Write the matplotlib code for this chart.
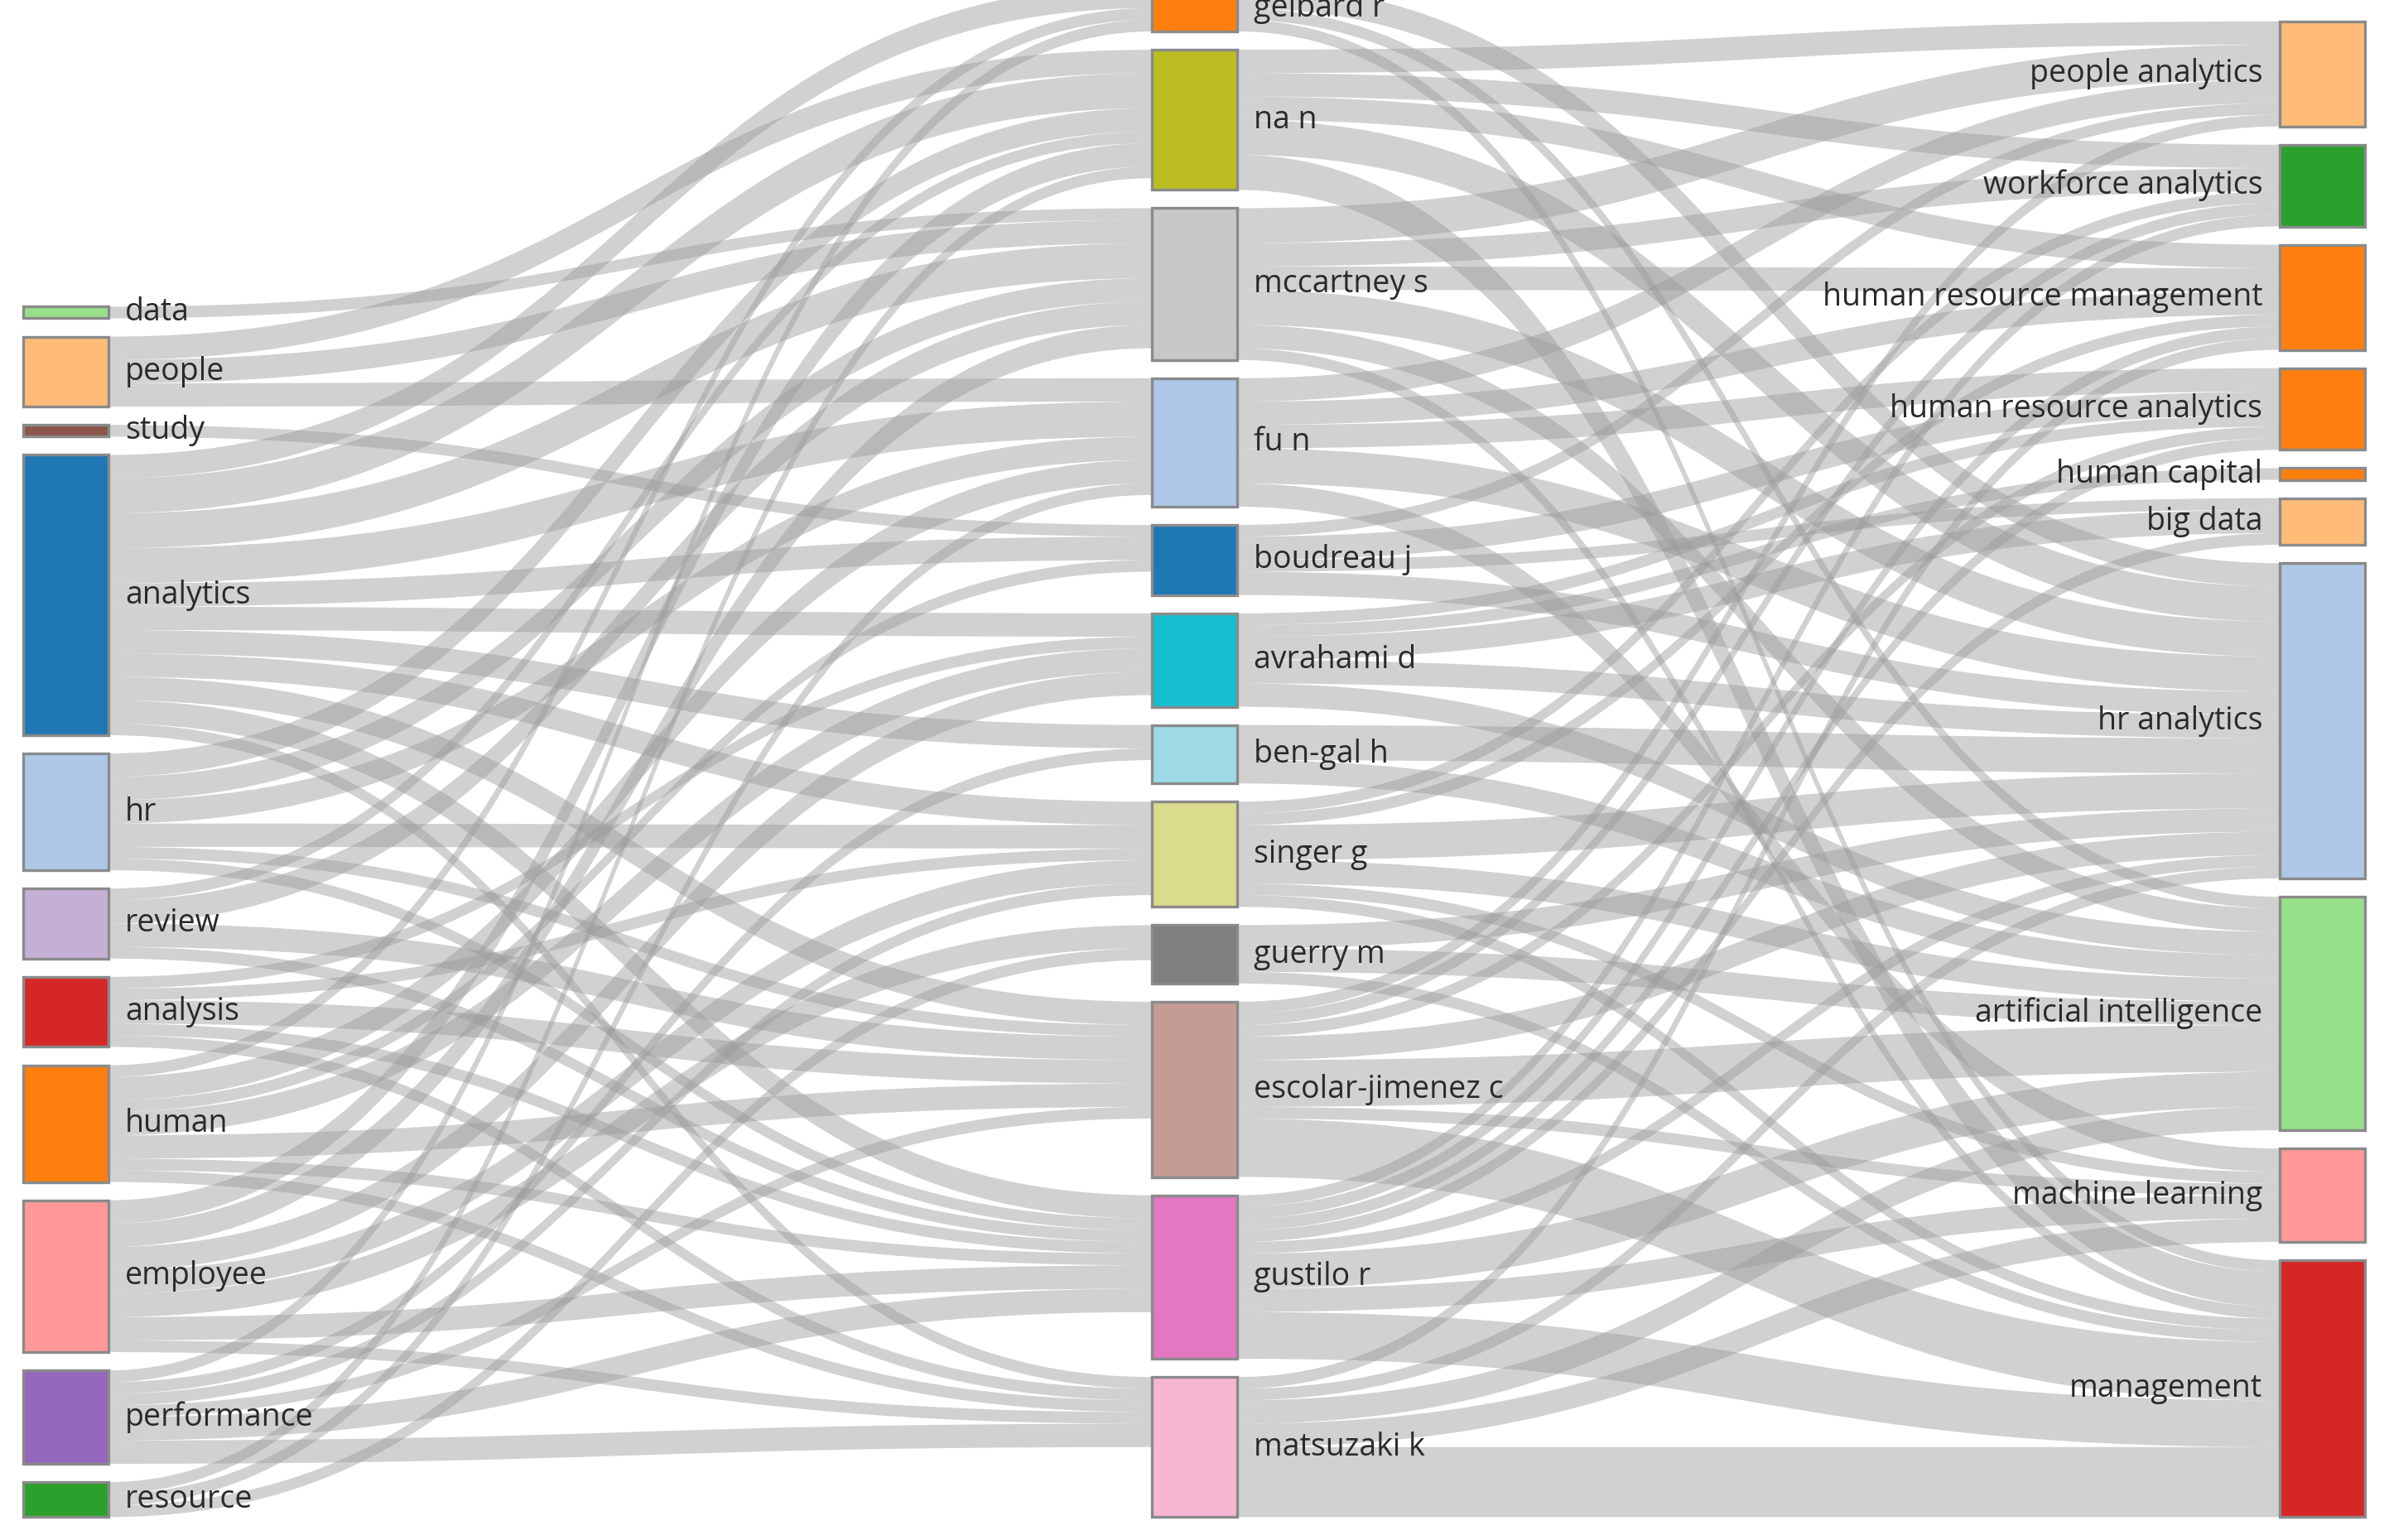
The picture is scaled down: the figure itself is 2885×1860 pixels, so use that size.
import numpy as np
import matplotlib.pyplot as plt
from matplotlib.path import Path
from matplotlib.patches import PathPatch, Rectangle

plt.rcParams['font.family'] = ['Open Sans', 'DejaVu Sans']

# three-field plot: keywords -> authors -> keywords
left_nodes = ["data", "people", "study", "analytics", "hr", "review", "analysis",
              "human", "employee", "performance", "resource"]
left_colors = ["#98df8a", "#ffbb78", "#8c564b", "#1f77b4", "#aec7e8", "#c5b0d5",
               "#d62728", "#ff7f0e", "#ff9896", "#9467bd", "#2ca02c"]
mid_nodes = ["gelbard r", "na n", "mccartney s", "fu n", "boudreau j", "avrahami d",
             "ben-gal h", "singer g", "guerry m", "escolar-jimenez c", "gustilo r", "matsuzaki k"]
mid_colors = ["#ff7f0e", "#bcbd22", "#c7c7c7", "#aec7e8", "#1f77b4", "#17becf",
              "#9edae5", "#dbdb8d", "#7f7f7f", "#c49c94", "#e377c2", "#f7b6d2"]
right_nodes = ["people analytics", "workforce analytics", "human resource management",
               "human resource analytics", "human capital", "big data", "hr analytics",
               "artificial intelligence", "machine learning", "management"]
right_colors = ["#ffbb78", "#2ca02c", "#ff7f0e", "#ff7f0e", "#ff7f0e", "#ffbb78",
                "#aec7e8", "#98df8a", "#ff9896", "#d62728"]

# (source, target, value)
flows_lm = [
    ("data", "mccartney s", 1),
    ("people", "na n", 2), ("people", "mccartney s", 2), ("people", "fu n", 2),
    ("study", "boudreau j", 1),
    ("analytics", "gelbard r", 2), ("analytics", "na n", 3), ("analytics", "mccartney s", 3),
    ("analytics", "fu n", 3), ("analytics", "boudreau j", 2), ("analytics", "avrahami d", 2),
    ("analytics", "ben-gal h", 2), ("analytics", "singer g", 2), ("analytics", "escolar-jimenez c", 2),
    ("analytics", "gustilo r", 2), ("analytics", "matsuzaki k", 1),
    ("hr", "na n", 2), ("hr", "mccartney s", 2), ("hr", "fu n", 2), ("hr", "singer g", 2),
    ("hr", "escolar-jimenez c", 1), ("hr", "gustilo r", 1),
    ("review", "na n", 1), ("review", "mccartney s", 2), ("review", "escolar-jimenez c", 2),
    ("review", "gustilo r", 1),
    ("analysis", "avrahami d", 1), ("analysis", "singer g", 1), ("analysis", "escolar-jimenez c", 2),
    ("analysis", "gustilo r", 1), ("analysis", "matsuzaki k", 1),
    ("human", "gelbard r", 1), ("human", "fu n", 2), ("human", "boudreau j", 1),
    ("human", "avrahami d", 2), ("human", "escolar-jimenez c", 2), ("human", "gustilo r", 1),
    ("human", "matsuzaki k", 1),
    ("employee", "na n", 2), ("employee", "mccartney s", 2), ("employee", "avrahami d", 2),
    ("employee", "singer g", 2), ("employee", "guerry m", 2), ("employee", "gustilo r", 2),
    ("employee", "matsuzaki k", 1),
    ("performance", "gelbard r", 1), ("performance", "ben-gal h", 1), ("performance", "singer g", 1),
    ("performance", "escolar-jimenez c", 1), ("performance", "gustilo r", 2),
    ("performance", "matsuzaki k", 2),
    ("resource", "na n", 1), ("resource", "fu n", 1), ("resource", "guerry m", 1),
]
flows_mr = [
    ("gelbard r", "hr analytics", 2), ("gelbard r", "artificial intelligence", 1), ("gelbard r", "management", 1),
    ("na n", "people analytics", 2), ("na n", "workforce analytics", 2), ("na n", "human resource management", 2),
    ("na n", "hr analytics", 3), ("na n", "management", 3),
    ("mccartney s", "people analytics", 3), ("mccartney s", "workforce analytics", 2),
    ("mccartney s", "human resource management", 2), ("mccartney s", "hr analytics", 3),
    ("mccartney s", "artificial intelligence", 2), ("mccartney s", "management", 1),
    ("fu n", "people analytics", 2), ("fu n", "human resource management", 2),
    ("fu n", "human resource analytics", 2), ("fu n", "hr analytics", 3), ("fu n", "machine learning", 2),
    ("boudreau j", "people analytics", 1), ("boudreau j", "human resource analytics", 2),
    ("boudreau j", "hr analytics", 2), ("boudreau j", "big data", 1),
    ("avrahami d", "human resource analytics", 1), ("avrahami d", "human capital", 1),
    ("avrahami d", "big data", 2), ("avrahami d", "hr analytics", 2), ("avrahami d", "artificial intelligence", 2),
    ("ben-gal h", "hr analytics", 3), ("ben-gal h", "artificial intelligence", 2),
    ("singer g", "workforce analytics", 1), ("singer g", "human resource management", 1),
    ("singer g", "hr analytics", 3), ("singer g", "artificial intelligence", 2),
    ("singer g", "machine learning", 1), ("singer g", "management", 1),
    ("guerry m", "hr analytics", 2), ("guerry m", "artificial intelligence", 2), ("guerry m", "management", 1),
    ("escolar-jimenez c", "people analytics", 1), ("escolar-jimenez c", "workforce analytics", 1),
    ("escolar-jimenez c", "human resource analytics", 1), ("escolar-jimenez c", "hr analytics", 2),
    ("escolar-jimenez c", "artificial intelligence", 4), ("escolar-jimenez c", "machine learning", 1),
    ("escolar-jimenez c", "management", 5),
    ("gustilo r", "workforce analytics", 1), ("gustilo r", "human resource management", 1),
    ("gustilo r", "human resource analytics", 1), ("gustilo r", "big data", 1),
    ("gustilo r", "hr analytics", 1), ("gustilo r", "artificial intelligence", 3),
    ("gustilo r", "machine learning", 2), ("gustilo r", "management", 4),
    ("matsuzaki k", "human resource management", 1), ("matsuzaki k", "hr analytics", 1),
    ("matsuzaki k", "artificial intelligence", 2), ("matsuzaki k", "machine learning", 2),
    ("matsuzaki k", "management", 6),
]

W, H = 1568, 1010
fig = plt.figure(figsize=(14.425, 9.3), dpi=200)
ax = fig.add_axes([0, 0, 1, 1])
ax.set_xlim(0, W)
ax.set_ylim(H, 0)
ax.axis("off")


def size_of(name):
    i = sum(v for s, t, v in flows_lm + flows_mr if t == name)
    o = sum(v for s, t, v in flows_lm + flows_mr if s == name)
    return max(i, o)


bottom = 995
mid_gap = 10
scale = (bottom - 12 - mid_gap * (len(mid_nodes) - 1)) / sum(size_of(n) for n in mid_nodes)

columns = [(left_nodes, left_colors, 15, 240), (mid_nodes, mid_colors, 756, 12),
           (right_nodes, right_colors, 1496, 130)]
node_w = 56
pos = {}
for names, colors, x, top in columns:
    total = sum(size_of(n) for n in names) * scale
    gap = max((bottom - top - total) / (len(names) - 1), 12)
    y = bottom - total - gap * (len(names) - 1)
    for n in names:
        h = size_of(n) * scale
        pos[n] = (x, y, h)
        y += h + gap

order = {n: i for names, _, _, _ in columns for i, n in enumerate(names)}


def draw_links(flows):
    src_y = {}
    o = {}
    for s, t, v in sorted(flows, key=lambda f: (order[f[0]], order[f[1]])):
        o.setdefault(s, 0)
        src_y[(s, t)] = pos[s][1] + o[s]
        o[s] += v * scale
    dst_y = {}
    o = {}
    for s, t, v in sorted(flows, key=lambda f: (order[f[1]], order[f[0]])):
        o.setdefault(t, 0)
        dst_y[(s, t)] = pos[t][1] + o[t]
        o[t] += v * scale
    for s, t, v in flows:
        x0 = pos[s][0] + node_w
        x1 = pos[t][0]
        y0 = src_y[(s, t)]
        y1 = dst_y[(s, t)]
        h = v * scale
        xm = (x0 + x1) / 2
        verts = [(x0, y0), (xm, y0), (xm, y1), (x1, y1),
                 (x1, y1 + h), (xm, y1 + h), (xm, y0 + h), (x0, y0 + h), (x0, y0)]
        codes = [Path.MOVETO, Path.CURVE4, Path.CURVE4, Path.CURVE4,
                 Path.LINETO, Path.CURVE4, Path.CURVE4, Path.CURVE4, Path.CLOSEPOLY]
        ax.add_patch(PathPatch(Path(verts, codes), facecolor="#9a9a9a", alpha=0.45,
                               edgecolor="none", zorder=1))


draw_links(flows_lm)
draw_links(flows_mr)

for ci, (names, colors, x, top) in enumerate(columns):
    for n, c in zip(names, colors):
        _, y, h = pos[n]
        ax.add_patch(Rectangle((x, y), node_w, h, facecolor=c, edgecolor="#8a8a8a",
                               linewidth=1.2, zorder=3))
        if ci < 2:
            ax.text(x + node_w + 11, y + h / 2, n, ha="left", va="center",
                    fontsize=13.5, color="#2a2a2a", zorder=4)
        else:
            ax.text(x - 11, y + h / 2, n, ha="right", va="center",
                    fontsize=13.5, color="#2a2a2a", zorder=4)

fig.savefig("out.png", dpi=200, facecolor="white")
